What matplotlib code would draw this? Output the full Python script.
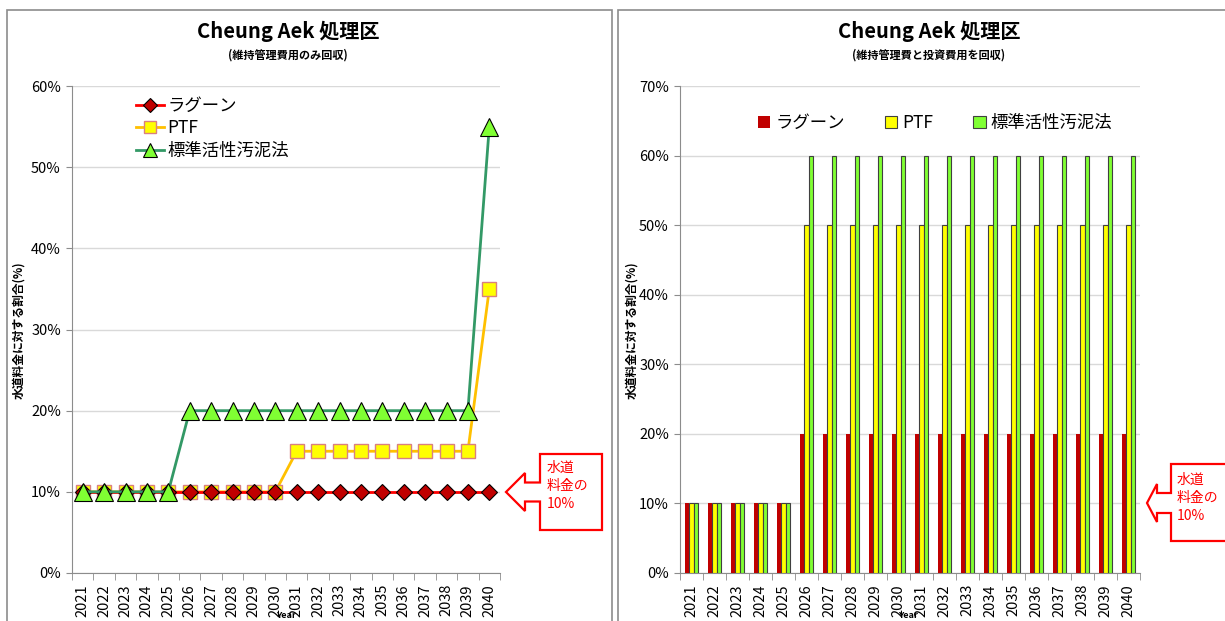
import numpy as np
import matplotlib
matplotlib.use("Agg")
import matplotlib.pyplot as plt
from matplotlib.patches import Polygon, Rectangle

plt.rcParams['font.family'] = ['Noto Sans CJK JP', 'DejaVu Sans']

years = [str(y) for y in range(2021, 2041)]

# 維持管理費用のみ回収 (%)
lagoon_om = [10] * 20
ptf_om = [10] * 10 + [15] * 9 + [35]
asp_om = [10] * 5 + [20] * 14 + [55]

# 維持管理費と投資費用を回収 (%)
lagoon_full = [10] * 5 + [20] * 15
ptf_full = [10] * 5 + [50] * 15
asp_full = [10] * 5 + [60] * 15

names = ['ラグーン', 'PTF', '標準活性汚泥法']

W, H = 1225, 621
fig = plt.figure(figsize=(W / 100, H / 100), dpi=100)


def fx(px):
    return px / W


def fy(py):
    return 1 - py / H


# panel frames
for x0, x1 in [(7, 612), (618, 1260)]:
    fig.add_artist(Rectangle((fx(x0), fy(660)), fx(x1 - x0), (660 - 10) / H,
                             transform=fig.transFigure, fill=False,
                             edgecolor='#8c8c8c', linewidth=1.2))


def style_axes(ax, ymax):
    x = np.arange(len(years))
    ax.set_xlim(-0.5, len(years) - 0.5)
    ax.set_ylim(0, ymax)
    ax.set_yticks(np.arange(0, ymax + 1, 10))
    ax.set_yticklabels([f'{v}%' for v in range(0, ymax + 1, 10)], fontsize=10.5)
    ax.set_xticks(x)
    ax.set_xticklabels(years, rotation=90, fontsize=10.5)
    ax.set_xticks(np.arange(-0.5, len(years)), minor=True)
    ax.tick_params(axis='x', which='major', length=0, pad=8)
    ax.tick_params(axis='x', which='minor', length=5, color='#8c8c8c')
    ax.tick_params(axis='y', length=4, color='#8c8c8c', pad=4)
    ax.grid(axis='y', color='#d9d9d9', linewidth=1)
    ax.set_axisbelow(True)
    for s in ['top', 'right']:
        ax.spines[s].set_visible(False)
    for s in ['left', 'bottom']:
        ax.spines[s].set_color('#8c8c8c')


# ---- left: line chart ----
axL = fig.add_axes([fx(72), fy(573), fx(500 - 72), (573 - 86) / H])
xs = np.arange(len(years))
axL.plot(xs, ptf_om, color='#ffc000', linewidth=2, marker='s', markersize=10,
         markerfacecolor='#ffff00', markeredgecolor='#d98080', markeredgewidth=1,
         label=names[1], zorder=3)
axL.plot(xs, lagoon_om, color='#ff0000', linewidth=2, marker='D', markersize=8.5,
         markerfacecolor='#c00000', markeredgecolor='black', markeredgewidth=0.8,
         label=names[0], zorder=4)
axL.plot(xs, asp_om, color='#339966', linewidth=2, marker='^', markersize=13,
         markerfacecolor='#80ff33', markeredgecolor='black', markeredgewidth=0.8,
         label=names[2], zorder=5)
style_axes(axL, 60)
h, l = axL.get_legend_handles_labels()
order = [1, 0, 2]
axL.legend([h[i] for i in order], [l[i] for i in order], loc='upper left',
           bbox_to_anchor=(0.13, 0.995), frameon=False, fontsize=12.5,
           handlelength=1.6, handletextpad=0.2, labelspacing=0.25, borderpad=0,
           markerscale=0.8)

# ---- right: bar chart ----
axR = fig.add_axes([fx(680), fy(573), fx(1140 - 680), (573 - 86) / H])
bw = 0.19
axR.bar(xs - bw, lagoon_full, bw, color='#c00000', label=names[0], zorder=3)
axR.bar(xs, ptf_full, bw, color='#ffff00', edgecolor='#404040', linewidth=0.8,
        label=names[1], zorder=3)
axR.bar(xs + bw, asp_full, bw, color='#80ff33', edgecolor='#404040', linewidth=0.8,
        label=names[2], zorder=3)
style_axes(axR, 70)
axR.legend(loc='upper center', bbox_to_anchor=(0.555, 0.975), ncol=3, frameon=False,
           fontsize=12.5, handlelength=0.7, handleheight=0.7, handletextpad=0.3,
           columnspacing=2.3)

# axis titles
for lx in [19, 632]:
    fig.text(fx(lx), fy(330), '水道料金に対する割合(%)', rotation=90, ha='center',
             va='center', fontsize=8.5, fontweight='bold')

# titles
for cx, sub in [(288, '(維持管理費用のみ回収)'), (929, '(維持管理費と投資費用を回収)')]:
    fig.text(fx(cx), fy(31), 'Cheung Aek 処理区', ha='center', va='center',
             fontsize=14.5, fontweight='bold')
    fig.text(fx(cx), fy(55), sub, ha='center', va='center', fontsize=8,
             fontweight='bold')

for cx in [286, 908]:
    fig.text(fx(cx), fy(616), 'Year', ha='center', va='center', fontsize=6.5,
             fontweight='bold')

# callouts
def callout(tip, head_x, head_h, shaft_h, box_x0, box_x1, box_y0, box_y1, tx, ty):
    x, y = tip
    pts = [(x, y), (head_x, y - head_h), (head_x, y - shaft_h), (box_x0, y - shaft_h),
           (box_x0, box_y0), (box_x1, box_y0), (box_x1, box_y1), (box_x0, box_y1),
           (box_x0, y + shaft_h), (head_x, y + shaft_h), (head_x, y + head_h)]
    poly = Polygon([(fx(a), fy(b)) for a, b in pts], closed=True,
                   transform=fig.transFigure, facecolor='white',
                   edgecolor='#ff0000', linewidth=1.6, zorder=10)
    fig.add_artist(poly)
    fig.text(fx(tx), fy(ty), '水道\n料金の\n10%', ha='left', va='top', color='#ff0000',
             fontsize=10, linespacing=1.35, zorder=11)


callout((506, 492), 525, 19, 9.5, 540, 602, 454, 530, 547, 461)
callout((1147, 503), 1157, 19, 10, 1171, 1260, 464, 541, 1177, 473)

fig.savefig('out.png', dpi=100)
